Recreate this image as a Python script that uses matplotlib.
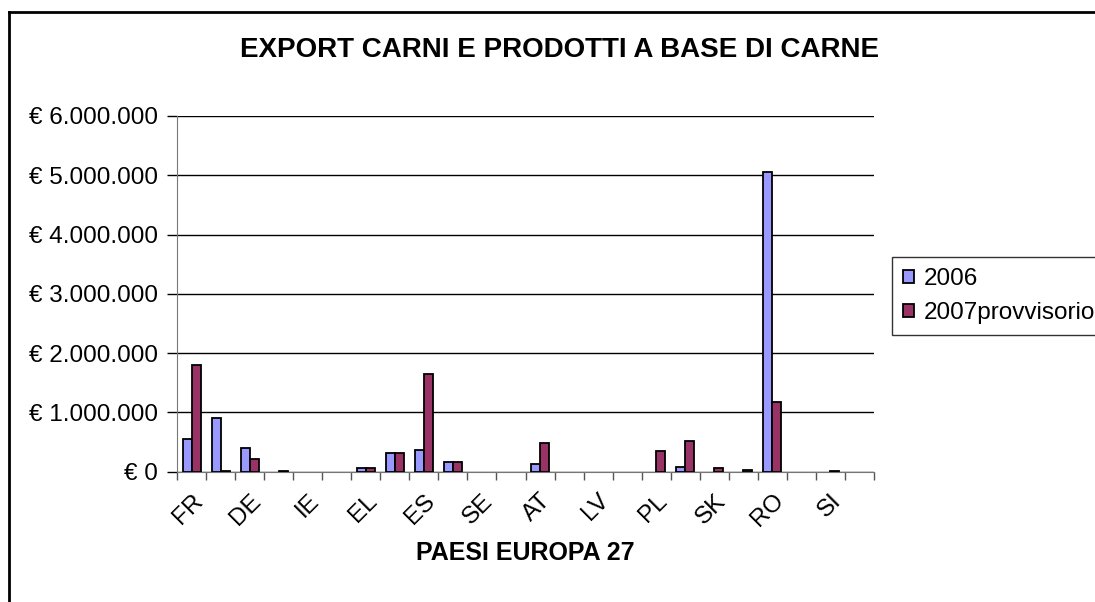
import matplotlib
matplotlib.use("Agg")
import matplotlib.pyplot as plt
import matplotlib.transforms as mtrans
import numpy as np
from matplotlib.lines import Line2D

plt.rcParams["font.family"] = ["Liberation Sans", "DejaVu Sans"]

paesi = ["FR", "NL", "DE", "UK", "IE", "DK", "EL", "PT", "ES", "BE", "SE", "FI",
         "AT", "EE", "LV", "LT", "PL", "CZ", "SK", "HU", "RO", "BG", "SI", "CY"]
v2006 = [560000, 910000, 400000, 0, 0, 0, 55000, 315000, 370000, 160000, 0, 0,
         135000, 0, 0, 0, 0, 85000, 0, 0, 5060000, 0, 0, 0]
v2007 = [1800000, 20000, 210000, 20000, 0, 0, 55000, 315000, 1640000, 160000, 0, 0,
         480000, 0, 0, 0, 345000, 510000, 55000, 25000, 1180000, 0, 20000, 0]
yticks = [0, 1000000, 2000000, 3000000, 4000000, 5000000, 6000000]

fig = plt.figure(figsize=(10.95, 6.02), dpi=100)
ax = fig.add_axes([177 / 1095, 1 - 471.7 / 602, 697 / 1095, 355.7 / 602])

x = np.arange(len(paesi))
w = 0.31
# i valori nulli non vengono disegnati (come in Excel)
h1 = np.where(np.array(v2006) > 0, v2006, np.nan)
h2 = np.where(np.array(v2007) > 0, v2007, np.nan)
b1 = ax.bar(x - w / 2, h1, w, color="#9999FF", edgecolor="black", linewidth=1.3,
            label="2006", zorder=3)
b2 = ax.bar(x + w / 2, h2, w, color="#993366", edgecolor="black", linewidth=1.3,
            label="2007provvisorio", zorder=3)

ax.set_xlim(-0.5, len(paesi) - 0.5)
ax.set_ylim(0, 6000000)
ax.set_yticks(yticks)
ax.set_yticklabels(["€ 0" if v == 0 else "€ " + f"{v:,}".replace(",", ".") for v in yticks],
                   fontsize=17.5)
ax.yaxis.grid(True, color="black", linewidth=1, zorder=0)
ax.tick_params(axis="y", length=7, width=1, pad=7)

ax.set_xticks(x[::2])
ax.set_xticklabels(paesi[::2], rotation=45, ha="right", rotation_mode="anchor", fontsize=17.5)
shift = mtrans.ScaledTranslation(-5 / 100, 0, fig.dpi_scale_trans)
for lab in ax.get_xticklabels():
    lab.set_transform(lab.get_transform() + shift)
ax.set_xticks(np.arange(-0.5, len(paesi)), minor=True)
ax.tick_params(axis="x", which="major", length=0, pad=13)
ax.tick_params(axis="x", which="minor", length=6, width=1, color="#555555")

for s in ["top", "right"]:
    ax.spines[s].set_visible(False)
ax.spines["left"].set_color("#777777")
ax.spines["bottom"].set_color("#777777")

ax.set_xlabel("PAESI EUROPA 27", fontsize=18, fontweight="bold", labelpad=7)
fig.text(560 / 1095, 1 - 50 / 602, "EXPORT CARNI E PRODOTTI A BASE DI CARNE",
         ha="center", va="center", fontsize=20, fontweight="bold")

leg = fig.legend(handles=[b1, b2], loc="upper left", bbox_to_anchor=(892 / 1095, 1 - 257 / 602),
                 fontsize=17.5, frameon=True, fancybox=False, edgecolor="black",
                 handlelength=0.45, handleheight=0.45, handletextpad=0.4,
                 borderpad=0.45, labelspacing=0.5, borderaxespad=0)
leg.get_frame().set_linewidth(1)

# cornice esterna del grafico
fig.add_artist(Line2D([8.5 / 1095, 1], [1 - 11.5 / 602] * 2, color="black", lw=2,
                      transform=fig.transFigure))
fig.add_artist(Line2D([8.5 / 1095] * 2, [0, 1 - 11.5 / 602], color="black", lw=2,
                      transform=fig.transFigure))

fig.savefig("out.png", dpi=100)
